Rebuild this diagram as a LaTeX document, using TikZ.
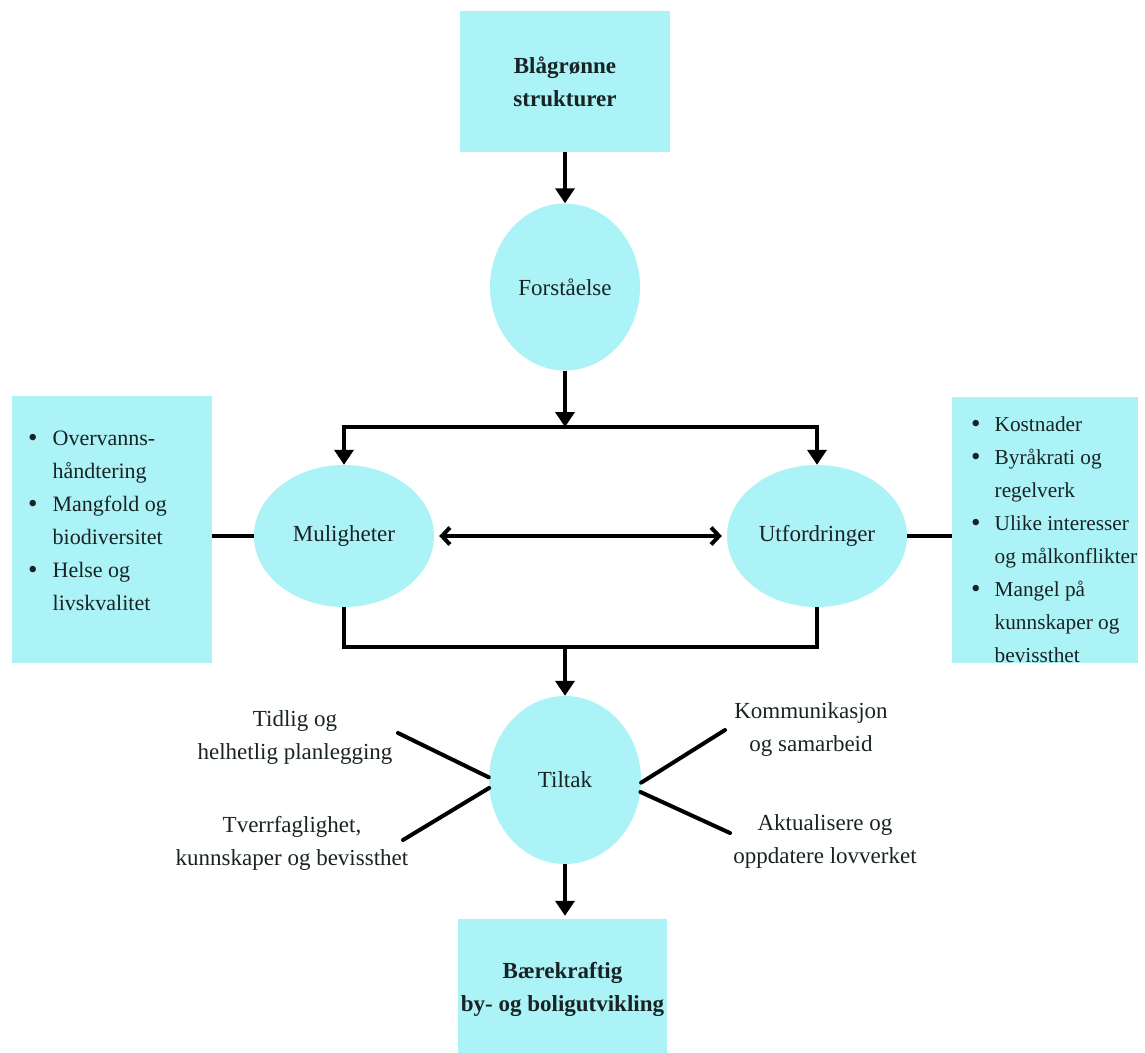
\documentclass[tikz,border=0pt]{standalone}
\usepackage{fontspec}
\setmainfont{Liberation Serif}
\usetikzlibrary{shapes.geometric,arrows.meta}
\definecolor{cyanfill}{RGB}{171,243,247}
\definecolor{txt}{RGB}{25,35,35}
\newcommand{\bul}{\raisebox{-1.5pt}{\fontsize{27}{33}\selectfont\textbullet}}
\begin{document}
\begin{tikzpicture}[x=1pt,y=-1pt,
  every node/.style={text=txt, font=\fontsize{23}{33}\selectfont},
  titlebox/.style={rectangle, fill=cyanfill, draw=none, align=center, inner sep=0pt,
    font=\fontsize{23}{33}\selectfont\bfseries},
  listbox/.style={rectangle, fill=cyanfill, draw=none, inner sep=0pt},
  listtext/.style={anchor=base west, inner sep=0pt},
  oval/.style={ellipse, fill=cyanfill, draw=none, inner sep=0pt},
  conn/.style={line width=4pt, draw=black},
  spoke/.style={conn, line cap=round},
  arr/.style={conn, -{Triangle[width=19pt,length=15pt]}},
  dbl/.style={conn, {Straight Barb[width=17pt,length=8pt]}-{Straight Barb[width=17pt,length=8pt]}},
  lbl/.style={align=center, inner sep=0pt}
]
\useasboundingbox (0,0) rectangle (1145,1052);

% boxes
\node[titlebox, minimum width=210pt, minimum height=141pt] (tb) at (565,81.5)
  {Blågrønne\\strukturer};
\node[titlebox, minimum width=209pt, minimum height=140pt] (bb) at (562.5,989)
  {Bærekraftig\\by- og boligutvikling};
\node[listbox, minimum width=200pt, minimum height=267pt] (lbox) at (112,529.5) {};
\node[listbox, minimum width=186pt, minimum height=266pt] (rbox) at (1045,530) {};

\node[listtext, font=\fontsize{22}{33}\selectfont] (ltext) at (28,445) {\begin{tabular}[t]{@{}l@{\hspace{15pt}}l@{}}
\bul & Overvanns-\\
 & håndtering\\
\bul & Mangfold og\\
 & biodiversitet\\
\bul & Helse og\\
 & livskvalitet
\end{tabular}};
\node[listtext, font=\fontsize{21.3}{33}\selectfont] (rtext) at (971,431) {\begin{tabular}[t]{@{}l@{\hspace{14pt}}l@{}}
\bul & Kostnader\\
\bul & Byråkrati og\\
 & regelverk\\
\bul & Ulike interesser\\
 & og målkonflikter\\
\bul & Mangel på\\
 & kunnskaper og\\
 & bevissthet
\end{tabular}};

% ellipses
\node[oval, minimum width=150pt, minimum height=167pt] (forst) at (565,287) {Forståelse};
\node[oval, minimum width=180pt, minimum height=142pt] (mul) at (344,536) {Muligheter};
\node[oval, minimum width=180pt, minimum height=142pt] (utf) at (817,536) {Utfordringer};
\node[oval, minimum width=152pt, minimum height=168pt] (tilt) at (565,780) {Tiltak};

% tiltak labels
\node[lbl] (t1) at (295,737) {Tidlig og\\helhetlig planlegging};
\node[lbl] (t2) at (292,843) {Tverrfaglighet,\\kunnskaper og bevissthet};
\node[lbl] (t3) at (811,729) {Kommunikasjon\\og samarbeid};
\node[lbl] (t4) at (825,841) {Aktualisere og\\oppdatere lovverket};

% connectors
\coordinate (split) at (565,427);
\coordinate (join) at (565,647);
\coordinate (c1) at (398,733);
\coordinate (c2) at (403,840);
\coordinate (c3) at (725,730);
\coordinate (c4) at (730,833);

\draw[arr] (tb.south) -- (forst.north);
\draw[arr] (forst.south) -- (split);
\draw[arr] (split) -| (mul.north);
\draw[arr] (split) -| (utf.north);
\draw[dbl, shorten <=5pt, shorten >=5pt] (mul.east) -- (utf.west);
\draw[conn] (mul.west) -- (mul.west -| lbox.east);
\draw[conn] (utf.east) -- (utf.east -| rbox.west);
\draw[conn] (mul.south) |- (join) -| (utf.south);
\draw[arr] (join) -- (tilt.north);
\draw[arr, shorten >=3pt] (tilt.south) -- (tilt.south |- bb.north);

\draw[spoke] (tilt.178) -- (c1);
\draw[spoke] (tilt.186) -- (c2);
\draw[spoke] (tilt.358) -- (c3);
\draw[spoke] (tilt.351) -- (c4);
\end{tikzpicture}
\end{document}
